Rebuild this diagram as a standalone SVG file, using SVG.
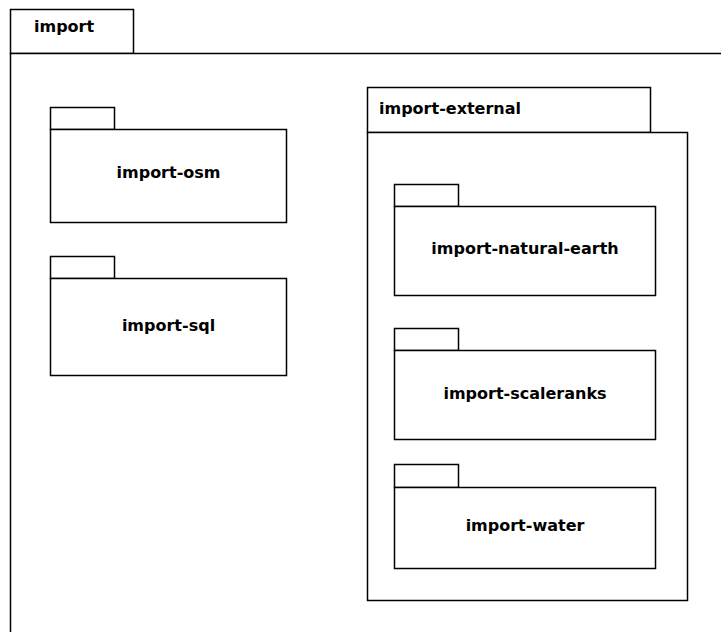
<svg xmlns="http://www.w3.org/2000/svg" width="721" height="632" viewBox="0 0 721 632">
  <defs>
    <style>
      .frame { fill: #ffffff; stroke: #000000; stroke-width: 1.5; }
      .label { font-family: "DejaVu Sans", "Liberation Sans", sans-serif; font-size: 16px; font-weight: bold; fill: #000000; }
      .center { text-anchor: middle; }
    </style>
  </defs>
  <rect x="0" y="0" width="721" height="632" fill="#ffffff"/>

  <!-- outer package: import (body runs past the canvas edges) -->
  <g id="import">
    <rect class="frame" x="10.5" y="9.5" width="123" height="44"/>
    <rect class="frame" x="10.5" y="53.5" width="730" height="600"/>
    <text class="label" x="34" y="31.5">import</text>
  </g>

  <g id="import-osm">
    <rect class="frame" x="50.5" y="107.5" width="64" height="22"/>
    <rect class="frame" x="50.5" y="129.5" width="236" height="93"/>
    <text class="label center" x="168.5" y="178">import-osm</text>
  </g>

  <g id="import-sql">
    <rect class="frame" x="50.5" y="256.5" width="64" height="22"/>
    <rect class="frame" x="50.5" y="278.5" width="236" height="97"/>
    <text class="label center" x="168.5" y="330.5">import-sql</text>
  </g>

  <g id="import-external">
    <rect class="frame" x="367.5" y="87.5" width="283" height="45"/>
    <rect class="frame" x="367.5" y="132.5" width="320" height="468"/>
    <text class="label" x="379" y="114">import-external</text>
  </g>

  <g id="import-natural-earth">
    <rect class="frame" x="394.5" y="184.5" width="64" height="22"/>
    <rect class="frame" x="394.5" y="206.5" width="261" height="89"/>
    <text class="label center" x="525" y="254">import-natural-earth</text>
  </g>

  <g id="import-scaleranks">
    <rect class="frame" x="394.5" y="328.5" width="64" height="22"/>
    <rect class="frame" x="394.5" y="350.5" width="261" height="89"/>
    <text class="label center" x="525" y="398.5">import-scaleranks</text>
  </g>

  <g id="import-water">
    <rect class="frame" x="394.5" y="464.5" width="64" height="23"/>
    <rect class="frame" x="394.5" y="487.5" width="261" height="81"/>
    <text class="label center" x="525" y="531">import-water</text>
  </g>

  <g id="connectors"></g>
</svg>
